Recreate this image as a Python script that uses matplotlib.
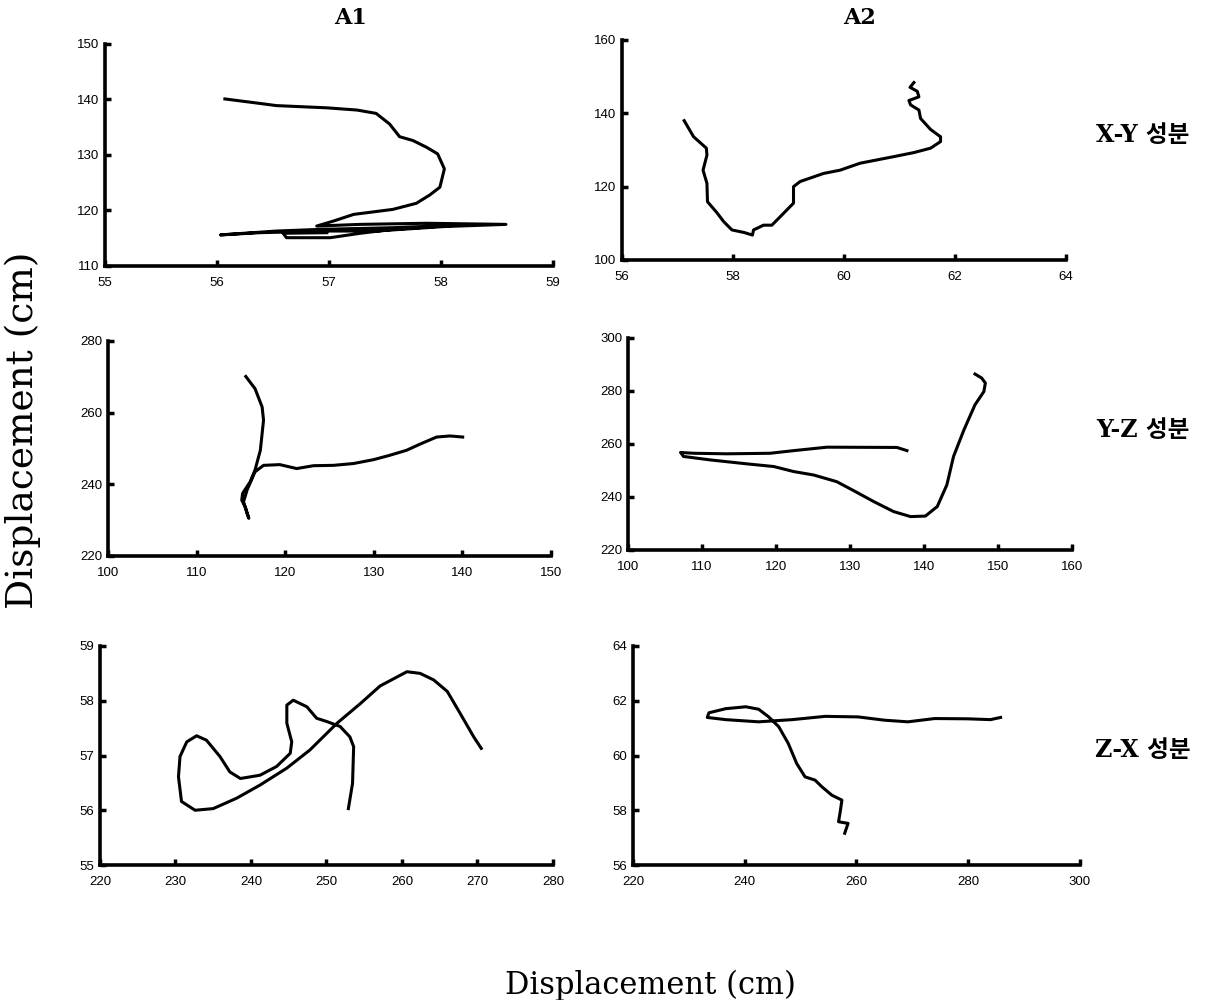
import matplotlib
matplotlib.use("Agg")
from matplotlib import pyplot as plt

# A1, X-Y
a1_xy_x = [56.07, 56.38, 56.53, 56.98, 57.25, 57.42, 57.54, 57.63, 57.75, 57.87, 57.97, 58.03,
           57.99, 57.90, 57.78, 57.57, 57.22, 57.04, 56.89, 57.28, 57.87, 58.58, 58.02, 57.42,
           56.98, 56.38, 56.03, 56.53, 56.92, 57.57, 58.17, 57.57, 57.28, 57.01, 56.62, 56.59, 56.98]
a1_xy_y = [140.1, 139.3, 138.9, 138.5, 138.1, 137.5, 135.6, 133.3, 132.6, 131.4, 130.2, 127.5,
           124.2, 122.8, 121.3, 120.2, 119.3, 118.1, 117.2, 117.5, 117.7, 117.5, 117.1, 116.3,
           116.3, 116.0, 115.6, 116.3, 116.6, 116.9, 117.4, 116.6, 115.9, 115.1, 115.1, 115.9, 116.0]

# A2, X-Y
a2_xy_x = [57.12, 57.29, 57.52, 57.53, 57.46, 57.53, 57.54, 57.71, 57.83, 57.98, 58.20, 58.35,
           58.37, 58.55, 58.70, 58.85, 59.09, 59.09, 59.21, 59.63, 59.93, 60.29, 60.90, 61.26,
           61.56, 61.74, 61.74, 61.56, 61.38, 61.35, 61.20, 61.17, 61.35, 61.32, 61.19, 61.26]
a2_xy_y = [138.0, 133.6, 130.5, 128.6, 124.5, 120.9, 115.9, 112.9, 110.5, 108.2, 107.5, 106.8,
           108.2, 109.5, 109.5, 111.8, 115.5, 120.0, 121.4, 123.6, 124.5, 126.4, 128.2, 129.3,
           130.5, 132.3, 133.6, 135.6, 138.6, 140.9, 142.3, 143.5, 144.5, 146.0, 147.1, 148.4]

# A1, Y-Z
a1_yz_x = [115.56, 116.6, 117.4, 117.56, 117.2, 116.6, 116.05, 115.2, 115.1, 115.5, 115.9, 115.7,
           115.3, 115.7, 116.6, 117.56, 119.4, 121.3, 123.2, 125.45, 127.7, 130.0, 131.8, 133.7,
           135.2, 137.1, 138.6, 140.04]
a1_yz_y = [270.1, 266.7, 261.6, 257.9, 249.5, 244.0, 240.7, 237.5, 235.6, 233.7, 230.5, 231.9,
           235.1, 238.4, 243.5, 245.3, 245.5, 244.4, 245.2, 245.3, 245.8, 246.9, 248.1, 249.5,
           251.2, 253.2, 253.5, 253.2]

# A2, Y-Z
a2_yz_x = [137.7, 136.35, 126.9, 122.4, 119.2, 113.4, 108.9, 107.1, 107.3, 107.5, 111.1, 116.1,
           119.7, 122.4, 125.1, 128.2, 130.5, 133.2, 135.9, 138.2, 140.2, 141.8, 143.1, 144.0,
           145.4, 146.9, 148.1, 148.3, 147.8, 146.9]
a2_yz_y = [257.5, 258.7, 258.8, 257.5, 256.5, 256.3, 256.5, 256.8, 256.1, 255.3, 254.0, 252.5,
           251.5, 249.6, 248.3, 245.8, 242.4, 238.3, 234.5, 232.6, 232.8, 236.4, 244.6, 255.3,
           265.3, 274.8, 279.8, 283.0, 284.9, 286.4]

# A1, Z-X
a1_zx_x = [252.9, 253.45, 253.6, 253.1, 251.8, 250.05, 248.7, 247.4, 245.6, 244.75, 244.75, 245.4,
           245.2, 243.4, 241.2, 238.6, 237.2, 235.9, 234.1, 232.8, 231.5, 230.6, 230.4, 230.8,
           232.6, 235.0, 238.1, 241.2, 244.75, 247.8, 251.4, 254.5, 257.1, 260.65, 262.4, 264.2,
           266.0, 267.7, 269.5, 270.5]
a1_zx_y = [56.03, 56.49, 57.16, 57.34, 57.53, 57.62, 57.68, 57.89, 58.01, 57.92, 57.59, 57.25,
           57.04, 56.80, 56.64, 56.58, 56.70, 56.98, 57.28, 57.36, 57.25, 56.98, 56.61, 56.16,
           56.00, 56.03, 56.22, 56.46, 56.77, 57.10, 57.59, 57.95, 58.27, 58.53, 58.50, 58.38,
           58.17, 57.77, 57.34, 57.13]

# A2, Z-X
a2_zx_x = [285.8, 284.0, 279.9, 274.0, 269.2, 265.0, 260.3, 254.4, 248.5, 242.5, 236.6, 233.3,
           233.6, 236.6, 240.2, 242.5, 244.3, 246.1, 247.8, 249.3, 250.8, 252.6, 253.8, 255.6,
           257.4, 257.1, 256.8, 258.5, 257.9]
a2_zx_y = [61.39, 61.31, 61.34, 61.35, 61.23, 61.29, 61.41, 61.43, 61.31, 61.23, 61.31, 61.39,
           61.56, 61.71, 61.78, 61.69, 61.41, 61.05, 60.44, 59.71, 59.22, 59.10, 58.86, 58.55,
           58.37, 57.95, 57.58, 57.52, 57.16]

col_titles = ["A1", "A2"]
row_titles = ["X-Y 성분", "Y-Z 성분", "Z-X 성분"]

fig = plt.figure(figsize=(12.13, 10), dpi=100)

panels = [
    # data x, data y, xlim, xticks, ylim, yticks, axes rect
    (a1_xy_x, a1_xy_y, (55, 59), range(55, 60, 1), (110, 150), range(110, 151, 10), [0.0866, 0.734, 0.3693, 0.222]),
    (a2_xy_x, a2_xy_y, (56, 64), range(56, 65, 2), (100, 160), range(100, 161, 20), [0.5128, 0.740, 0.366, 0.220]),
    (a1_yz_x, a1_yz_y, (100, 150), range(100, 151, 10), (220, 280), range(220, 281, 20), [0.089, 0.444, 0.3652, 0.215]),
    (a2_yz_x, a2_yz_y, (100, 160), range(100, 161, 10), (220, 300), range(220, 301, 20), [0.5177, 0.450, 0.366, 0.212]),
    (a1_zx_x, a1_zx_y, (220, 280), range(220, 281, 10), (55, 59), range(55, 60, 1), [0.0824, 0.135, 0.3735, 0.219]),
    (a2_zx_x, a2_zx_y, (220, 300), range(220, 301, 20), (56, 64), range(56, 65, 2), [0.5218, 0.135, 0.3685, 0.219]),
]

for xs, ys, xlim, xt, ylim, yt, rect in panels:
    ax = fig.add_axes(rect)
    ax.plot(xs, ys, color="black", lw=2.2, solid_joinstyle="round")
    ax.set_xlim(*xlim)
    ax.set_ylim(*ylim)
    ax.set_xticks(list(xt))
    ax.set_yticks(list(yt))
    for s in ["top", "right"]:
        ax.spines[s].set_visible(False)
    for s in ["left", "bottom"]:
        ax.spines[s].set_linewidth(2.6)
    ax.tick_params(direction="in", length=4, width=2.5, labelsize=9.5)
    ax.tick_params(axis="x", pad=8)
    ax.tick_params(axis="y", pad=4)
    for lab in ax.get_xticklabels() + ax.get_yticklabels():
        lab.set_family("Liberation Sans")

serif_kr = ["DejaVu Serif", "Noto Sans CJK KR"]

fig.text(0.289, 0.982, col_titles[0], ha="center", va="center", fontsize=16, fontweight="bold", family=serif_kr)
fig.text(0.709, 0.982, col_titles[1], ha="center", va="center", fontsize=16, fontweight="bold", family=serif_kr)

for label, yy in zip(row_titles, [0.865, 0.570, 0.250]):
    fig.text(0.942, yy, label, ha="center", va="center", fontsize=17, fontweight="bold", family=serif_kr)

fig.text(0.019, 0.57, "Displacement (cm)", rotation=90, ha="center", va="center", fontsize=27, family=serif_kr)
fig.text(0.536, 0.015, "Displacement (cm)", ha="center", va="center", fontsize=22, family=serif_kr)

plt.savefig("out.png", dpi=100)
